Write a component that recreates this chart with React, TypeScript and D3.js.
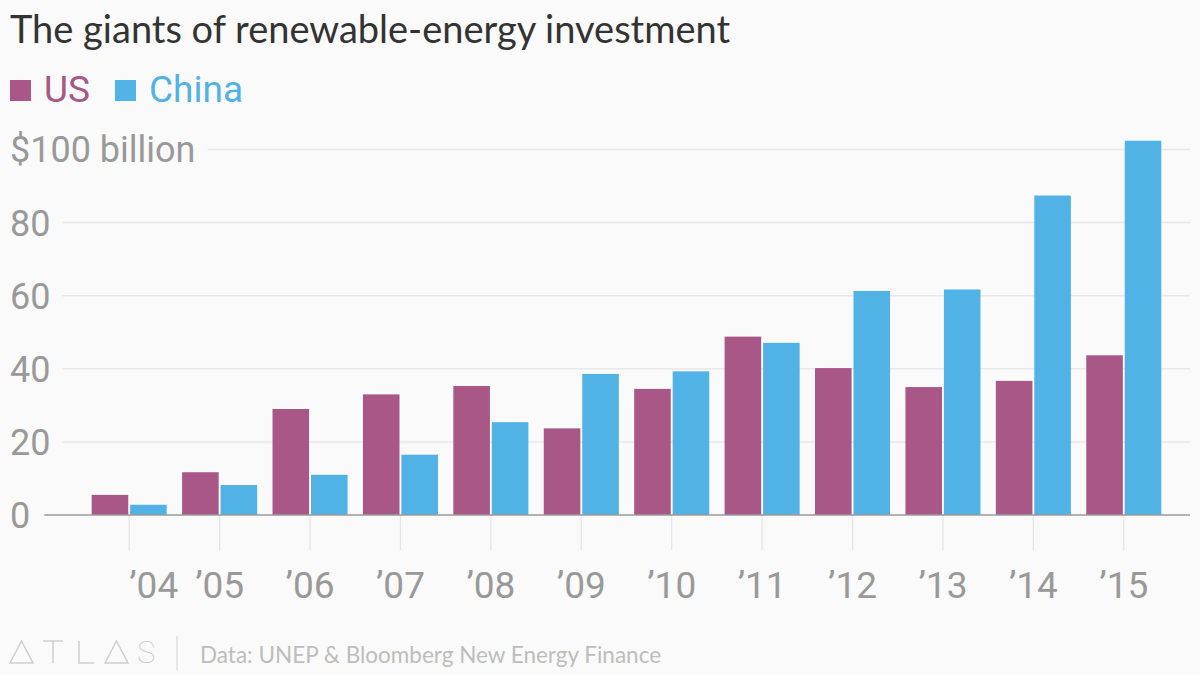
import React, { useEffect, useRef } from "react";
import * as d3 from "d3";

const years = ["’04", "’05", "’06", "’07", "’08", "’09", "’10", "’11", "’12", "’13", "’14", "’15"];
const usValues = [5.5, 11.7, 29.0, 33.0, 35.3, 23.7, 34.5, 48.8, 40.2, 35.0, 36.7, 43.7];
const chinaValues = [2.8, 8.2, 11.0, 16.5, 25.4, 38.6, 39.3, 47.1, 61.3, 61.7, 87.4, 102.4];
const seriesNames = ["US", "China"];
const yTicks = [0, 20, 40, 60, 80, 100];

const W = 1200;
const H = 675;
const colors: Record<string, string> = { US: "#a85787", China: "#50b2e5" };
const labelFont = "Roboto, 'Noto Sans', sans-serif";
const titleFont = "Lato, 'Open Sans', sans-serif";

export default function App() {
  const ref = useRef<SVGSVGElement>(null);

  useEffect(() => {
    document.body.style.margin = "0";
    const svg = d3.select(ref.current!);
    svg.selectAll("*").remove();

    svg.append("rect").attr("width", W).attr("height", H).attr("fill", "#fafafa");

    // title
    svg
      .append("text")
      .attr("x", 10)
      .attr("y", 43)
      .attr("font-family", titleFont)
      .attr("font-size", 38)
      .attr("fill", "#333")
      .text("The giants of renewable-energy investment");

    // legend
    const legend = svg.append("g");
    const legendX = [10, 115];
    seriesNames.forEach((name, i) => {
      legend
        .append("rect")
        .attr("x", legendX[i])
        .attr("y", 80)
        .attr("width", 21)
        .attr("height", 21)
        .attr("fill", colors[name]);
      legend
        .append("text")
        .attr("x", legendX[i] + 34)
        .attr("y", 102)
        .attr("font-family", labelFont)
        .attr("font-size", 37)
        .attr("fill", colors[name])
        .text(name);
    });

    const y = d3.scaleLinear().domain([0, 100]).range([515, 149.5]);
    const x = d3
      .scaleBand<string>()
      .domain(years)
      .range([84, 1169])
      .paddingInner(0.17)
      .paddingOuter(0.085);
    const xSub = d3
      .scaleBand<string>()
      .domain(seriesNames)
      .range([0, x.bandwidth()])
      .paddingInner(0.05);

    const right = 1190;

    // y axis labels + gridlines
    const yAxis = svg.append("g");
    let zeroW = 0;
    yTicks.forEach((t) => {
      const label = yAxis
        .append("text")
        .attr("x", 10)
        .attr("y", y(t))
        .attr("dy", "0.36em")
        .attr("font-family", labelFont)
        .attr("font-size", 36)
        .attr("fill", "#999")
        .text(t === 100 ? "$100 billion" : String(t));
      const w = (label.node() as SVGTextElement).getComputedTextLength();
      if (t !== 0) {
        yAxis
          .append("line")
          .attr("x1", 10 + w + 12)
          .attr("x2", right)
          .attr("y1", y(t))
          .attr("y2", y(t))
          .attr("stroke", "#e8e8e8")
          .attr("stroke-width", 1.5);
      } else {
        zeroW = w;
      }
    });

    // x ticks
    const xAxis = svg.append("g");
    years.forEach((yr, i) => {
      const cx = x(yr)! + x.bandwidth() / 2;
      xAxis
        .append("line")
        .attr("x1", cx)
        .attr("x2", cx)
        .attr("y1", y(0))
        .attr("y2", 550)
        .attr("stroke", "#e4e4e4")
        .attr("stroke-width", 1.2);
      xAxis
        .append("text")
        .attr("x", cx)
        .attr("y", 598)
        .attr("text-anchor", i === 0 ? "start" : "middle")
        .attr("font-family", labelFont)
        .attr("font-size", 37)
        .attr("fill", "#999")
        .text(yr);
    });

    // bars
    const rows = years.map((yr, i) => ({ yr, US: usValues[i], China: chinaValues[i] }));
    const groups = svg
      .append("g")
      .selectAll("g")
      .data(rows)
      .join("g")
      .attr("transform", (d) => `translate(${x(d.yr)},0)`);
    groups
      .selectAll("rect")
      .data((d) => seriesNames.map((s) => ({ s, v: (d as any)[s] as number })))
      .join("rect")
      .attr("x", (d) => xSub(d.s)!)
      .attr("width", xSub.bandwidth())
      .attr("y", (d) => y(d.v))
      .attr("height", (d) => y(0) - y(d.v))
      .attr("fill", (d) => colors[d.s]);

    // zero line
    svg
      .append("line")
      .attr("x1", 10 + zeroW + 14)
      .attr("x2", right)
      .attr("y1", y(0))
      .attr("y2", y(0))
      .attr("stroke", "#9a9a9a")
      .attr("stroke-width", 1.5);

    // footer: logo
    const logo = svg.append("g").attr("stroke", "#cfcfcf").attr("fill", "none").attr("stroke-width", 1.5);
    const tri = (x0: number) => `M${x0},663L${x0 + 11.5},641L${x0 + 23},663Z`;
    logo.append("path").attr("d", tri(10));
    logo.append("path").attr("d", "M43,641H63M53,641V663");
    logo.append("path").attr("d", "M79,641V663H94");
    logo.append("path").attr("d", tri(105));
    svg
      .append("text")
      .attr("x", 137)
      .attr("y", 663)
      .attr("font-family", labelFont)
      .attr("font-weight", 100)
      .attr("font-size", 31)
      .attr("fill", "#c8c8c8")
      .text("S");
    svg
      .append("line")
      .attr("x1", 177)
      .attr("x2", 177)
      .attr("y1", 636)
      .attr("y2", 670)
      .attr("stroke", "#d8d8d8")
      .attr("stroke-width", 1.2);
    svg
      .append("text")
      .attr("x", 200)
      .attr("y", 663)
      .attr("font-family", titleFont)
      .attr("font-size", 22.5)
      .attr("fill", "#bdbdbd")
      .text("Data: UNEP & Bloomberg New Energy Finance");
  }, []);

  return <svg ref={ref} width={W} height={H} style={{ display: "block" }} />;
}
